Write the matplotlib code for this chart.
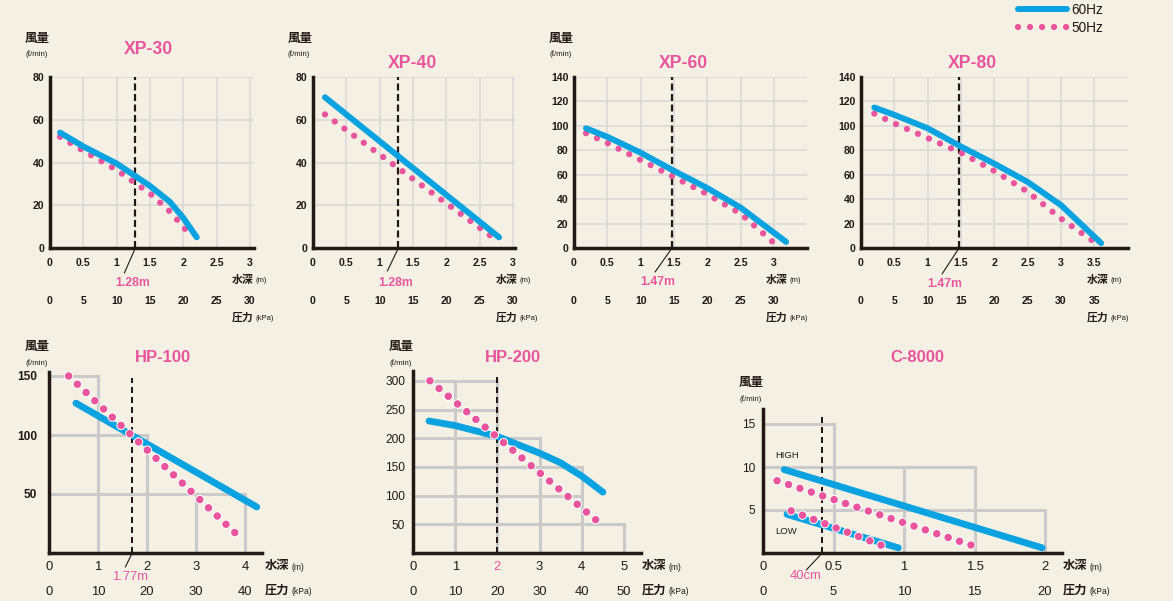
import matplotlib
matplotlib.use('Agg')
import matplotlib.pyplot as plt

plt.rcParams['font.family'] = ['Liberation Sans', 'Noto Sans CJK JP', 'DejaVu Sans']
plt.rcParams['lines.scale_dashes'] = False

W, H = 1173, 601
BG = '#f4f1e4'
BLUE = '#0aa2e0'
PINK = '#e8559c'
INK = '#231815'
GRID = '#d8d8d6'
STEP = '#cacaca'
PT = 0.72  # points per pixel

# ---------------- data ----------------
# XP-30
xp30_60_x = [0.15, 0.5, 1.0, 1.5, 1.8, 2.0, 2.2]
xp30_60_y = [54, 47.5, 39.5, 29, 21.5, 14, 5]
xp30_50_x = [0.15, 0.5, 1.0, 1.5, 1.8, 2.05]
xp30_50_y = [52, 45.5, 36.5, 25.5, 17, 8]
# XP-40
xp40_60_x = [0.18, 2.79]
xp40_60_y = [70.5, 5]
xp40_50_x = [0.18, 2.65]
xp40_50_y = [62.5, 6]
# XP-60
xp60_60_x = [0.18, 0.5, 1.0, 1.47, 2.0, 2.5, 3.18]
xp60_60_y = [98, 91, 78, 64, 49, 33, 5]
xp60_50_x = [0.18, 0.5, 1.0, 1.5, 2.0, 2.5, 2.98]
xp60_50_y = [94, 86, 72, 58, 44, 28, 5]
# XP-80
xp80_60_x = [0.2, 0.5, 1.0, 1.5, 2.0, 2.5, 3.0, 3.6]
xp80_60_y = [115, 109, 98, 83, 69, 54, 35, 4]
xp80_50_x = [0.2, 0.5, 1.0, 1.5, 2.0, 2.5, 3.0, 3.47]
xp80_50_y = [110, 102, 90, 78, 63, 46, 24, 6]
# HP-100
hp100_60_x = [0.55, 4.24]
hp100_60_y = [127, 39]
hp100_50_x = [0.4, 3.8]
hp100_50_y = [150, 17]
# HP-200
hp200_60_x = [0.38, 1.0, 2.0, 3.0, 3.5, 4.0, 4.5]
hp200_60_y = [230, 222, 203, 174, 157, 134, 106]
hp200_50_x = [0.4, 4.36]
hp200_50_y = [300, 56]
# C-8000 (HIGH / LOW)
c8000_high_60_x = [0.15, 1.98]
c8000_high_60_y = [9.7, 0.6]
c8000_high_50_x = [0.1, 1.48]
c8000_high_50_y = [8.4, 0.9]
c8000_low_60_x = [0.17, 0.96]
c8000_low_60_y = [4.5, 0.6]
c8000_low_50_x = [0.2, 0.84]
c8000_low_50_y = [4.9, 0.9]

# marked depths
xp30_mark, xp40_mark, xp60_mark, xp80_mark = 1.28, 1.28, 1.47, 1.47
hp100_mark, hp200_mark, c8000_mark = 1.7, 2.0, 0.42

# tick values
xp_m_ticks_3 = [0, 0.5, 1, 1.5, 2, 2.5, 3]
xp_m_ticks_35 = [0, 0.5, 1, 1.5, 2, 2.5, 3, 3.5]
xp_kpa_ticks_30 = [0, 5, 10, 15, 20, 25, 30]
xp_kpa_ticks_35 = [0, 5, 10, 15, 20, 25, 30, 35]
xp_y_ticks_80 = [0, 20, 40, 60, 80]
xp_y_ticks_140 = [0, 20, 40, 60, 80, 100, 120, 140]
hp100_m_ticks = [0, 1, 2, 3, 4]
hp100_kpa_ticks = [0, 10, 20, 30, 40]
hp100_y_ticks = [50, 100, 150]
hp200_m_ticks = [0, 1, 2, 3, 4, 5]
hp200_kpa_ticks = [0, 10, 20, 30, 40, 50]
hp200_y_ticks = [50, 100, 150, 200, 250, 300]
c8000_m_ticks = [0, 0.5, 1, 1.5, 2]
c8000_kpa_ticks = [0, 5, 10, 15, 20]
c8000_y_ticks = [5, 10, 15]

# stepped grid of the lower charts: (level, reach)
hp100_h = [(150, 1), (100, 2), (50, 4)]
hp100_v = [(1, 150), (2, 100), (3, 50), (4, 50)]
hp200_h = [(300, 2), (250, 2), (200, 3), (150, 4), (100, 4), (50, 5)]
hp200_v = [(1, 300), (2, 300), (3, 200), (4, 150), (5, 50)]
c8000_h = [(15, 0.5), (10, 1.5), (5, 2)]
c8000_v = [(0.5, 15), (1, 10), (1.5, 10), (2, 5)]

fig = plt.figure(figsize=(W / 100, H / 100), dpi=100, facecolor=BG)


def ftext(x, y, s, **kw):
    kw.setdefault('color', INK)
    fig.text(x / W, 1 - y / H, s, **kw)


def make_axes(left, bottom, xmax, ymax, sx, sy):
    ax = fig.add_axes([left / W, 1 - bottom / H, xmax * sx / W, ymax * sy / H])
    ax.set_xlim(0, xmax)
    ax.set_ylim(0, ymax)
    ax.patch.set_visible(False)
    ax.spines[['top', 'right']].set_visible(False)
    for s in ('left', 'bottom'):
        ax.spines[s].set_linewidth(2.5)
        ax.spines[s].set_color(INK)
        ax.spines[s].set_capstyle('projecting')
        ax.spines[s].set_zorder(6)
    ax.tick_params(length=0, colors=INK)
    return ax, ymax * sy


def kpa_row(ax, ticks, h_px, off_px, pad, size, weight):
    sec = ax.secondary_xaxis(-off_px / h_px, functions=(lambda m: m * 10, lambda k: k / 10))
    for sp in sec.spines.values():
        sp.set_visible(False)
    sec.set_xticks(ticks, [f'{t:g}' for t in ticks], fontsize=size, fontweight=weight, color=INK)
    sec.tick_params(length=0, pad=pad)


def dotted(ax, x, y, size_px, gap_px, outline=False, z=3):
    ls = (0, (0.01, gap_px * PT))
    if outline:
        ax.plot(x, y, color='white', lw=(size_px + 2) * PT, linestyle=ls,
                dash_capstyle='round', zorder=z)
    return ax.plot(x, y, color=PINK, lw=size_px * PT, linestyle=ls,
                   dash_capstyle='round', zorder=z + 0.1)[0]


def mark(ax, x, label, slash, lab, size, weight, ytop=None, lw=2.2, dashes=(7, 3.5)):
    top = 1 if ytop is None else ytop
    ax.axvline(x, 0, top, color=INK, lw=lw * PT, linestyle=(0, (dashes[0] * PT, dashes[1] * PT)), zorder=2)
    if label:
        ax.annotate('', xy=(x, 0), xytext=(slash[0] * PT, slash[1] * PT), textcoords='offset points',
                    arrowprops=dict(arrowstyle='-', color=INK, lw=0.8, shrinkA=0, shrinkB=0),
                    annotation_clip=False)
        ax.annotate(label, xy=(x, 0), xytext=(lab[0] * PT, lab[1] * PT), textcoords='offset points',
                    ha='center', va='center', color=PINK, fontsize=size, fontweight=weight,
                    annotation_clip=False)


def unit_label(x, y, main, unit, size, weight):
    ftext(x, y, main, fontsize=size, fontweight=weight, ha='left', va='center')
    ftext(x + 2 * size / PT + 2, y + 1, unit, fontsize=size * 0.7, ha='left', va='center')


# ---------------- upper row ----------------
SX_TOP = 66.7
H_TOP = 171
upper = [
    ('XP-30', 50, 3.06, 80, xp30_60_x, xp30_60_y, xp30_50_x, xp30_50_y, xp30_mark,
     xp_m_ticks_3, xp_kpa_ticks_30, xp_y_ticks_80, (148, 50), 232, (-11, -25), (-3, -35), True),
    ('XP-40', 313, 3.03, 80, xp40_60_x, xp40_60_y, xp40_50_x, xp40_50_y, xp40_mark,
     xp_m_ticks_3, xp_kpa_ticks_30, xp_y_ticks_80, (412, 63), 496, (-11, -23), (-3, -35), True),
    ('XP-60', 574, 3.5, 140, xp60_60_x, xp60_60_y, xp60_50_x, xp60_50_y, xp60_mark,
     xp_m_ticks_3, xp_kpa_ticks_30, xp_y_ticks_140, (683, 63), 766, (-17, -24), (-14, -34), True),
    ('XP-80', 861, 4.0, 140, xp80_60_x, xp80_60_y, xp80_50_x, xp80_50_y, xp80_mark,
     xp_m_ticks_35, xp_kpa_ticks_35, xp_y_ticks_140, (972, 63), 1087, (-17, -26), (-14, -36), False),
]

legend_lines = None
for (name, left, xmax, ymax, bx, by, px_, py_, mk, mt, kt, yt, tpos, ux, sl, lb, has_ylab) in upper:
    ax, hpx = make_axes(left, 248, xmax, ymax, SX_TOP, H_TOP / ymax)
    ax.set_xticks(mt, [f'{t:g}' for t in mt], fontsize=7.6, fontweight='bold')
    ax.set_yticks(yt, [f'{t:g}' for t in yt], fontsize=7.6, fontweight='bold')
    ax.tick_params(axis='x', pad=7)
    ax.tick_params(axis='y', pad=4)
    ax.grid(True, color=GRID, lw=1.1, zorder=0)
    ax.set_axisbelow(True)
    kpa_row(ax, kt, hpx, 38, 7, 7.6, 'bold')
    mark(ax, mk, f'{mk:.2f}m', sl, lb, 8.8, 'bold')
    pink = dotted(ax, px_, py_, 6.3, 12, z=3)
    blue, = ax.plot(bx, by, color=BLUE, lw=6 * PT, solid_capstyle='round', zorder=4)
    if legend_lines is None:
        legend_lines = (blue, pink)
    ftext(tpos[0], tpos[1], name, fontsize=12.7, fontweight='bold', color=PINK, ha='center', va='center')
    unit_label(ux, 280, '水深', '(m)', 7.8, 'bold')
    unit_label(ux, 318, '圧力', '(kPa)', 7.8, 'bold')
    if has_ylab:
        ftext(left - 25, 39, '風量', fontsize=9, fontweight='bold', ha='left', va='center')
        ftext(left - 25, 54, '(ℓ/min)', fontsize=5.6, ha='left', va='center')

# ---------------- lower row ----------------
lower = [
    ('HP-100', 49, 4.35, 153, 49, 1.18, [(hp100_50_x, hp100_50_y)],
     [(hp100_60_x, hp100_60_y)], hp100_mark, '1.77m', (-7, -14), (-2, -24), 148 / 153,
     hp100_m_ticks, hp100_kpa_ticks, hp100_y_ticks, hp100_h, hp100_v, (163, 357), 265, 12, 'bold', 347),
    ('HP-200', 413, 5.4, 317, 42.2, 0.574, [(hp200_50_x, hp200_50_y)],
     [(hp200_60_x, hp200_60_y)], hp200_mark, None, None, None, 314 / 317,
     hp200_m_ticks, hp200_kpa_ticks, hp200_y_ticks, hp200_h, hp200_v, (513, 357), 642, 8, 'normal', 347),
    ('C-8000', 763, 2.12, 16.8, 141, 8.6,
     [(c8000_high_50_x, c8000_high_50_y), (c8000_low_50_x, c8000_low_50_y)],
     [(c8000_high_60_x, c8000_high_60_y), (c8000_low_60_x, c8000_low_60_y)],
     c8000_mark, '40cm', (-16, -17), (-17, -23), 16 / 16.8,
     c8000_m_ticks, c8000_kpa_ticks, c8000_y_ticks, c8000_h, c8000_v, (917, 357), 1063, 8, 'normal', 383),
]

for (name, left, xmax, ymax, sx, sy, pinks, blues, mk, mlab, sl, lb, mtop,
     mt, kt, yt, hl, vl, tpos, ux, ypad, yweight, ylab_y) in lower:
    ax, hpx = make_axes(left, 553, xmax, ymax, sx, sy)
    ax.set_xticks(mt, [f'{t:g}' for t in mt], fontsize=9.4)
    ax.set_yticks(yt, [f'{t:g}' for t in yt], fontsize=8.6, fontweight=yweight)
    ax.tick_params(axis='x', pad=6)
    ax.tick_params(axis='y', pad=ypad * PT)
    for lvl, reach in hl:
        ax.hlines(lvl, 0, reach, color=STEP, lw=2.2, zorder=1, capstyle='projecting')
    for xv, lvl in vl:
        ax.vlines(xv, 0, lvl, color=STEP, lw=2.2, zorder=1, capstyle='projecting')
    kpa_row(ax, kt, hpx, 25, 6, 9.4, 'normal')
    mark(ax, mk, mlab, sl, lb, 9.4, 'normal', ytop=mtop, lw=2.0, dashes=(6, 4))
    for bx, by in blues:
        ax.plot(bx, by, color=BLUE, lw=6.8 * PT, solid_capstyle='round', zorder=3)
    for px_, py_ in pinks:
        dotted(ax, px_, py_, 7.5, 12, outline=True, z=4)
    if name == 'HP-200':
        ax.get_xticklabels()[2].set_color(PINK)
    ftext(tpos[0], tpos[1], name, fontsize=12, fontweight='bold', color=PINK, ha='center', va='center')
    unit_label(ux, 566, '水深', '(m)', 8.8, 'bold')
    unit_label(ux, 591, '圧力', '(kPa)', 8.8, 'bold')
    ftext(left - 24, ylab_y, '風量', fontsize=9, fontweight='bold', ha='left', va='center')
    ftext(left - 24, ylab_y + 16, '(ℓ/min)', fontsize=5.6, ha='left', va='center')

ftext(775, 455, 'HIGH', fontsize=6.8, ha='left', va='center')
ftext(775, 532, 'LOW', fontsize=6.8, ha='left', va='center')

# legend
fig.legend(legend_lines, ['60Hz', '50Hz'], loc='upper left',
           bbox_to_anchor=(1018 / W, 1 - 3 / H), frameon=False, fontsize=9.8,
           labelcolor=INK, borderpad=0, borderaxespad=0, handlelength=3.6,
           handletextpad=0.3, labelspacing=0.3)

fig.savefig('out.png', dpi=100, facecolor=BG)
